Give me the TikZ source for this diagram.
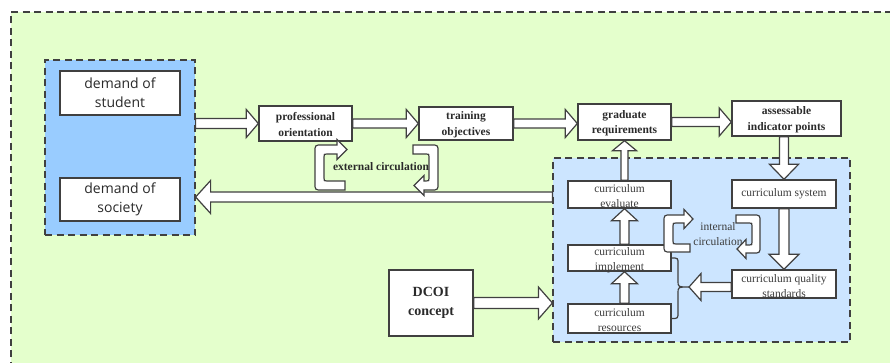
\documentclass[tikz,border=0pt]{standalone}
\usepackage{fontspec}
\setmainfont{Liberation Serif}
\newfontfamily\sansf{Open Sans}
\usetikzlibrary{calc}
\definecolor{bgG}{HTML}{E4FFCC}
\definecolor{blueA}{HTML}{99CCFF}
\definecolor{blueB}{HTML}{CCE5FF}
\definecolor{lineC}{HTML}{404040}
\definecolor{txtC}{HTML}{2A2A2A}
\definecolor{grayT}{HTML}{3C3C3C}
\tikzset{
  bw/.store in=\bw, bh/.store in=\bh, bl/.store in=\bl,
  bw=4.5pt, bh=14pt, bl=12pt,
  barrow/.style={draw=lineC, fill=white, line width=1.2pt, line join=miter,
    to path={
      ($(\tikztotarget)!\bl!(\tikztostart)$) coordinate (bbase)
      ($(\tikztostart)!\bw!90:(\tikztotarget)$) -- ($(bbase)!\bw!90:(\tikztotarget)$)
      -- ($(bbase)!\bh!90:(\tikztotarget)$) -- (\tikztotarget)
      -- ($(bbase)!\bh!-90:(\tikztotarget)$) -- ($(bbase)!\bw!-90:(\tikztotarget)$)
      -- ($(\tikztostart)!\bw!-90:(\tikztotarget)$) -- cycle}},
  box/.style 2 args={draw=lineC, fill=white, line width=1.4pt, inner sep=0pt,
    minimum width=#1, minimum height=#2},
  zone/.style 2 args={draw=lineC, line width=1.2pt, dash pattern=on 7pt off 4.5pt,
    inner sep=0pt, minimum width=#1, minimum height=#2},
  uarrow/.style={draw=lineC, fill=white, line width=1.2pt, line join=miter},
  brace/.style={draw=lineC, line width=1.2pt},
  st/.style={font=\sansf\fontsize{14}{19}\selectfont, align=center, text=txtC, inner sep=0pt},
  bt/.style={font=\bfseries\fontsize{11.5}{15.5}\selectfont, align=center, text=txtC, inner sep=0pt},
  nt/.style={font=\fontsize{11.5}{15}\selectfont, align=center, text=grayT, inner sep=0pt},
  dt/.style={font=\bfseries\fontsize{14}{19}\selectfont, align=center, text=txtC, inner sep=0pt}
}
\begin{document}
\begin{tikzpicture}[x=1pt,y=-1pt]
\useasboundingbox (0,0) rectangle (890,363);
% outer frame
\fill[bgG] (11,12) rectangle (900,380);
\draw[lineC, line width=1.2pt, dash pattern=on 7pt off 4.5pt] (11,380) -- (11,12) -- (900,12);
% zones
\node[zone={150pt}{175pt}, fill=blueA] (leftbox) at (120,147.5) {};
\node[zone={297pt}{184pt}, fill=blueB] (lowbox) at (701.5,250) {};
% boxes
\node[box={120pt}{44pt}] (stud) at (120,93) {};
\node[box={120pt}{43pt}] (soc) at (120,199.5) {};
\node[box={93pt}{35pt}] (prof) at (305.5,123.5) {};
\node[box={94pt}{33pt}] (train) at (466,123.5) {};
\node[box={93pt}{36pt}] (grad) at (624.5,122) {};
\node[box={109pt}{35pt}] (assess) at (786.5,118.5) {};
\node[box={103pt}{27pt}] (eval) at (619.5,194.5) {};
\node[box={103pt}{26pt}] (impl) at (619.5,258) {};
\node[box={103pt}{29pt}] (res) at (619.5,318.5) {};
\node[box={104pt}{28pt}] (sys) at (784,194) {};
\node[box={104pt}{28pt}] (qual) at (784,284) {};
\node[box={84pt}{66pt}] (dcoi) at (431,303) {};
\coordinate (brtip) at (689,287);
% arrows
\coordinate (a1s) at (leftbox.east |- prof.west);
\draw[barrow, bw=5pt] (a1s) to (prof.west);
\draw[barrow] (prof.east) to (train.west);
\draw[barrow] (train.east) to (train.east -| grad.west);
\draw[barrow] (grad.east) to (grad.east -| assess.west);
\coordinate (d1s) at (sys.north |- assess.south);
\draw[barrow, bw=4.5pt, bh=14.5pt, bl=15pt] (d1s) to (sys.north);
\draw[barrow, bw=5pt, bh=15pt, bl=15pt] (sys.south) to (qual.north);
\draw[barrow, bw=4.5pt, bh=13pt, bl=12pt] (grad.south |- res.north) to (grad.south |- impl.south);
\draw[barrow, bw=4.5pt, bh=13pt, bl=12pt] (grad.south |- impl.north) to (grad.south |- eval.south);
\draw[barrow, bw=3.5pt, bh=12pt, bl=10pt] (grad.south |- eval.north) to (grad.south);
\draw[barrow, bw=5.5pt, bh=16pt, bl=14pt] (dcoi.east) to (dcoi.east -| lowbox.west);
\draw[barrow, bw=4.5pt, bh=13.5pt, bl=12pt] (qual.west |- brtip) to (brtip);
\coordinate (bkS) at ($(lowbox.west |- soc.east)+(0,-2.5)$);
\coordinate (bkE) at ($(leftbox.east |- soc.east)+(0,-2.5)$);
\draw[barrow, bw=5pt, bh=16.5pt, bl=15pt] (bkS) to (bkE);
% brace
\draw[brace] (impl.east) .. controls (678,258) .. (678,264) -- (678,281) .. controls (678,287) .. (brtip)
  .. controls (678,287) .. (678,293) -- (678,312) .. controls (678,318.5) .. (res.east);
% texts
\node[st] at (stud) {demand of\\student};
\node[st] at (soc) {demand of\\society};
\node[bt] at ([yshift=-1pt]prof.center) {professional\\orientation};
\node[bt] at ([yshift=-1pt]train.center) {training\\objectives};
\node[bt] at ([yshift=-1pt]grad.center) {graduate\\requirements};
\node[bt] at ([yshift=-1pt]assess.center) {assessable\\indicator points};
\node[nt] at ([yshift=-2pt]eval.center) {curriculum\\evaluate};
\node[nt] at ([yshift=-2pt]impl.center) {curriculum\\implement};
\node[nt] at ([yshift=-2pt]res.center) {curriculum\\resources};
\node[nt] at (sys) {curriculum system};
\node[nt] at ([yshift=-2pt]qual.center) {curriculum quality\\standards};
\node[dt] at (dcoi) {DCOI\\concept};
\node[bt] (extL) at (381,167) {external circulation};
\node[nt] (intL) at (718,234.5) {internal\\circulation};
% circulation arrows
\draw[uarrow] (345,190) -- (322,190) .. controls (315,190) .. (315,183) -- (315,152) .. controls (315,145) .. (322,145)
  -- (337,145) -- (337,139.5) -- (347,149.5) -- (337,159.5) -- (337,154) -- (327,154) .. controls (324,154) .. (324,157)
  -- (324,178) .. controls (324,181) .. (327,181) -- (345,181) -- cycle;
\draw[uarrow] (413,145) -- (431,145) .. controls (438,145) .. (438,152) -- (438,183) .. controls (438,190) .. (431,190)
  -- (424,190) -- (424,195.5) -- (414,185.5) -- (424,175.5) -- (424,181) -- (426,181) .. controls (429,181) .. (429,178)
  -- (429,157) .. controls (429,154) .. (426,154) -- (413,154) -- cycle;
\draw[uarrow] (690,252) -- (671,252) .. controls (664,252) .. (664,245) -- (664,222) .. controls (664,215) .. (671,215)
  -- (684,215) -- (684,209.5) -- (693,219) -- (684,228.5) -- (684,223) -- (676,223) .. controls (673,223) .. (673,226)
  -- (673,241) .. controls (673,244) .. (676,244) -- (690,244) -- cycle;
\draw[uarrow] (736,215) -- (753,215) .. controls (760,215) .. (760,222) -- (760,246) .. controls (760,253) .. (753,253)
  -- (746,253) -- (746,258.5) -- (737,249) -- (746,239.5) -- (746,245) -- (749,245) .. controls (752,245) .. (752,242)
  -- (752,226) .. controls (752,223) .. (749,223) -- (736,223) -- cycle;
\end{tikzpicture}
\end{document}
